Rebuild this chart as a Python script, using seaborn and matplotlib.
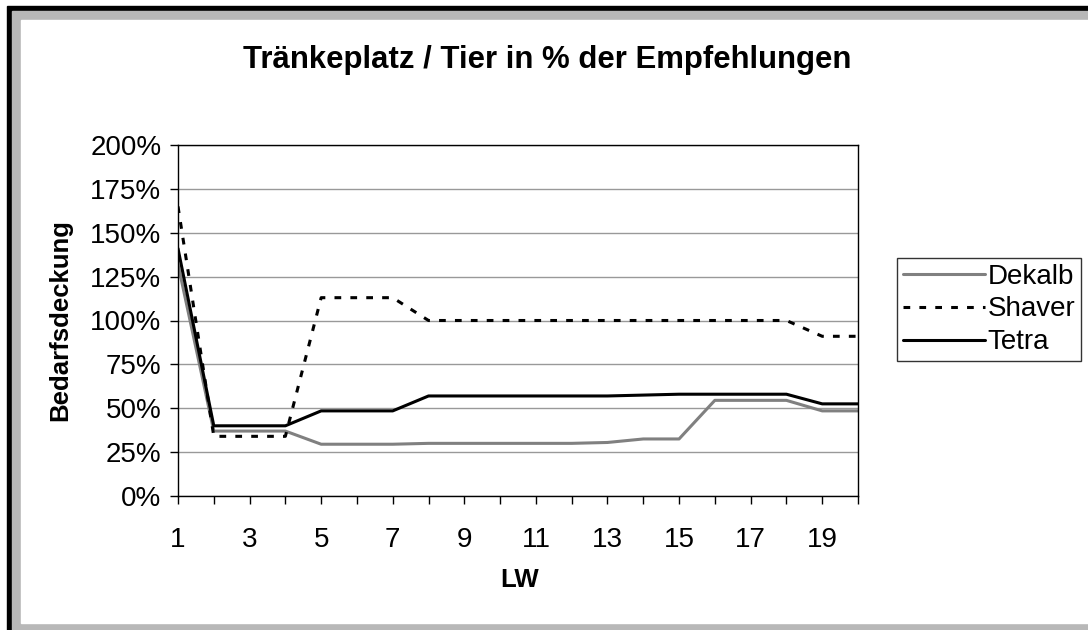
import numpy as np
import pandas as pd
import matplotlib
matplotlib.use('Agg')
import matplotlib.pyplot as plt
from matplotlib.patches import Rectangle
from matplotlib.ticker import PercentFormatter, MultipleLocator
import seaborn as sns

# data (percent of recommendation)
lw = list(range(1, 21))
dekalb = [132, 37, 37, 37, 29.5, 29.5, 29.5, 30, 30, 30, 30, 30, 30.5, 32.5, 32.5, 54.5, 54.5, 54.5, 48.5, 48.5]
shaver = [165, 34, 34, 34, 113, 113, 113, 100, 100, 100, 100, 100, 100, 100, 100, 100, 100, 100, 91, 91]
tetra = [141, 40, 40, 40, 48.5, 48.5, 48.5, 57, 57, 57, 57, 57, 57, 57.5, 58, 58, 58, 58, 52.5, 52.5]
names = ['Dekalb', 'Shaver', 'Tetra']

df = pd.DataFrame({'LW': lw, 'Dekalb': dekalb, 'Shaver': shaver, 'Tetra': tetra})
df = df.melt(id_vars='LW', var_name='Linie', value_name='Wert')

sns.set_style('white')
plt.rcParams['font.family'] = ['Liberation Sans', 'DejaVu Sans']
plt.rcParams.update({'text.color': 'black', 'axes.labelcolor': 'black',
                     'xtick.color': 'black', 'ytick.color': 'black'})

W, H = 1088, 630
fig = plt.figure(figsize=(W / 100, H / 100), dpi=100, facecolor='white')

# frame around the chart (black edge, grey inner band)
fig.add_artist(Rectangle((7 / W, 0), 1, 1 - 6 / H, transform=fig.transFigure, color='black', zorder=-3))
fig.add_artist(Rectangle((12 / W, 0), 1, 1 - 11 / H, transform=fig.transFigure, color='#b8b8b8', zorder=-2))
fig.add_artist(Rectangle((21 / W, 7 / H), 1, 1 - 27 / H, transform=fig.transFigure, color='white', zorder=-1))

ax = fig.add_axes([178 / W, 134 / H, 680 / W, 351 / H])
ax.set_facecolor('white')

pal = {'Dekalb': '#808080', 'Shaver': 'black', 'Tetra': 'black'}
dashes = {'Dekalb': '', 'Shaver': (2.2, 3.0), 'Tetra': ''}
sns.lineplot(data=df, x='LW', y='Wert', hue='Linie', style='Linie', hue_order=names,
             style_order=names, palette=pal, dashes=dashes, linewidth=2.2, ax=ax)

ax.set_xlim(1, 20)
ax.set_ylim(0, 200)
ax.set_xticks(range(1, 21, 2))
ax.xaxis.set_minor_locator(MultipleLocator(1))
ax.yaxis.set_major_locator(MultipleLocator(25))
ax.yaxis.set_major_formatter(PercentFormatter(decimals=0))
ax.grid(axis='y', color='#999999', linewidth=1)
ax.set_axisbelow(True)
for s in ax.spines.values():
    s.set_color('black')
    s.set_linewidth(1)
ax.tick_params(axis='both', which='both', direction='out', length=6, width=1, color='black',
               labelcolor='black', labelsize=20, left=True, bottom=True)
ax.tick_params(axis='x', pad=16)
ax.tick_params(axis='y', pad=6)

ax.set_xlabel('LW', fontsize=18.5, fontweight='bold', color='black')
ax.xaxis.set_label_coords(0.503, -0.205)
ax.set_ylabel('Bedarfsdeckung', fontsize=18.5, fontweight='bold', color='black')
ax.yaxis.set_label_coords(-0.155, 0.5)

fig.text(547 / W, 1 - 60 / H, 'Tränkeplatz / Tier in % der Empfehlungen',
         ha='center', va='center', fontsize=22.4, fontweight='bold', color='black')

handles, labels = ax.get_legend_handles_labels()
leg = ax.legend(handles, labels, loc='upper left', bbox_to_anchor=(897 / W, 1 - 258 / H),
                bbox_transform=fig.transFigure, borderaxespad=0, fontsize=20, frameon=True,
                fancybox=False, edgecolor='black', handlelength=2.95, handletextpad=0.1,
                labelspacing=0.25, borderpad=0.2)
leg.get_frame().set_linewidth(1)
for t in leg.get_texts():
    t.set_color('black')

fig.savefig('out.png', dpi=100, facecolor='white')
